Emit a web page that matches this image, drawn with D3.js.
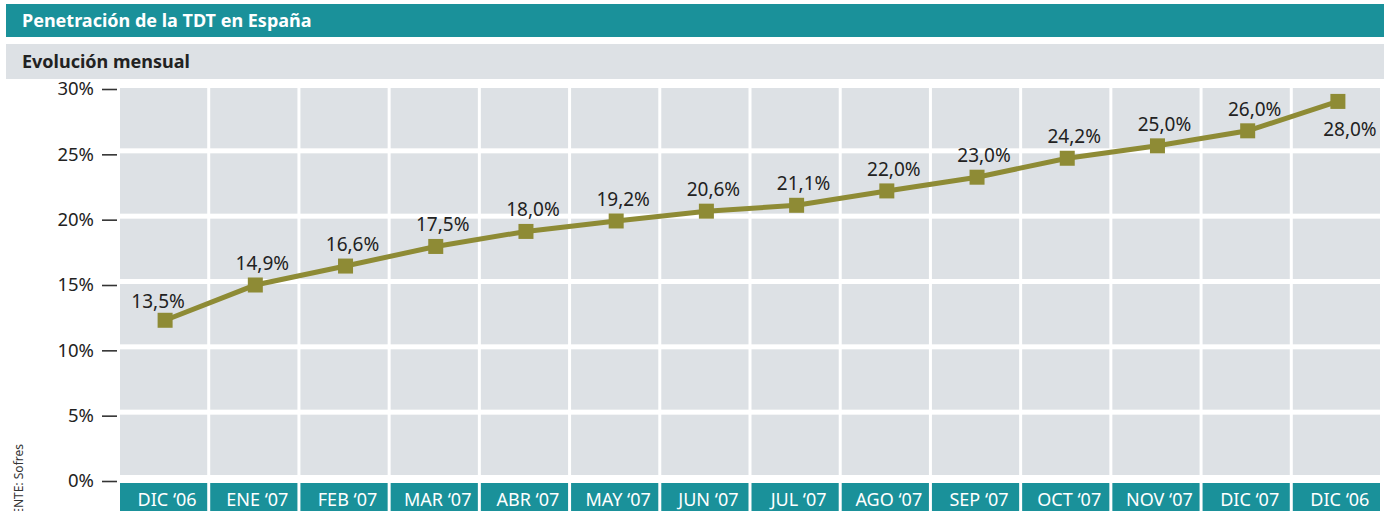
<!DOCTYPE html>
<html lang="es">
<head>
<meta charset="utf-8">
<title>Penetración de la TDT en España</title>
<style>
  html, body { margin: 0; padding: 0; background: #fff; }
  svg { display: block; font-family: 'Noto Sans', 'Open Sans', sans-serif; }
</style>
</head>
<body>
<div id="vis"></div>
<script src="https://cdn.jsdelivr.net/npm/d3@7"></script>
<script>
// months shown along the bottom (the last one really says DIC '06 in the source)
var months = ["DIC \u201806", "ENE \u201807", "FEB \u201807", "MAR \u201807", "ABR \u201807", "MAY \u201807",
              "JUN \u201807", "JUL \u201807", "AGO \u201807", "SEP \u201807", "OCT \u201807", "NOV \u201807",
              "DIC \u201807", "DIC \u201806"];
// where the markers sit on the chart (%)
var plotted = [12.3, 15.0, 16.45, 17.95, 19.1, 19.9, 20.65, 21.1, 22.2, 23.25, 24.7, 25.65, 26.8, 29.05];
// the labels printed next to the markers
var labels = ["13,5%", "14,9%", "16,6%", "17,5%", "18,0%", "19,2%", "20,6%", "21,1%",
              "22,0%", "23,0%", "24,2%", "25,0%", "26,0%", "28,0%"];
var yTicks = [0, 5, 10, 15, 20, 25, 30];

var width = 1384, height = 511;
var teal = '#1a919a', cell = '#dde1e5', olive = '#8e8b35', ink = '#222';

var svg = d3.select('#vis').append('svg')
    .attr('width', width)
    .attr('height', height);

// header bars
svg.append('rect').attr('x', 6).attr('y', 4).attr('width', width - 6).attr('height', 33).attr('fill', teal);
svg.append('text').attr('x', 22).attr('y', 27)
    .attr('fill', '#fff').attr('font-weight', 'bold').attr('font-size', 18)
    .text('Penetración de la TDT en España');

svg.append('rect').attr('x', 6).attr('y', 44).attr('width', width - 6).attr('height', 35).attr('fill', cell);
svg.append('text').attr('x', 22).attr('y', 68)
    .attr('fill', ink).attr('font-weight', 'bold').attr('font-size', 18)
    .text('Evolución mensual');

var x = d3.scaleBand()
    .domain(months.map(function(d, i) { return i; }))
    .range([120, 1383]);

var y = d3.scaleLinear()
    .domain([0, 30])
    .range([481, 89]);

// background cells
var rows = d3.pairs(yTicks);
var g = svg.append('g');
months.forEach(function(m, i) {
    rows.forEach(function(r) {
        var top = y(r[1]) - 1;
        var bottom = y(r[0]) - 6;
        g.append('rect')
            .attr('x', x(i))
            .attr('y', top)
            .attr('width', x.bandwidth() - 3)
            .attr('height', bottom - top)
            .attr('fill', cell);
    });
});

// category bar at the bottom
var xbar = svg.append('g');
xbar.selectAll('rect')
    .data(months)
    .enter()
    .append('rect')
    .attr('x', function(d, i) { return x(i); })
    .attr('y', y(0) + 2)
    .attr('width', x.bandwidth() - 3)
    .attr('height', height - y(0))
    .attr('fill', teal);

xbar.selectAll('text')
    .data(months)
    .enter()
    .append('text')
    .attr('x', function(d, i) { return x(i) + x.bandwidth() / 2 + 2; })
    .attr('y', 506)
    .attr('text-anchor', 'middle')
    .attr('fill', '#fff')
    .attr('font-size', 18)
    .text(function(d) { return d; });

// y axis
var yAxis = d3.axisLeft(y)
    .tickValues(yTicks)
    .tickSize(15)
    .tickPadding(8)
    .tickFormat(function(d) { return d + '%'; });

var ya = svg.append('g')
    .attr('transform', 'translate(117,0)')
    .call(yAxis);
ya.select('.domain').remove();
ya.selectAll('line').attr('stroke', '#333').attr('stroke-width', 1.6);
ya.selectAll('text')
    .attr('font-size', 18.5)
    .attr('fill', ink)
    .attr('font-family', "'Noto Sans', sans-serif");

// line + markers
var cx = function(i) { return x(i) + x.bandwidth() / 2; };
var line = d3.line()
    .x(function(d, i) { return cx(i); })
    .y(function(d) { return y(d); });

svg.append('path')
    .datum(plotted)
    .attr('d', line)
    .attr('fill', 'none')
    .attr('stroke', olive)
    .attr('stroke-width', 5);

var sz = 15;
svg.selectAll('.pt')
    .data(plotted)
    .enter()
    .append('rect')
    .attr('class', 'pt')
    .attr('x', function(d, i) { return cx(i) - sz / 2; })
    .attr('y', function(d) { return y(d) - sz / 2; })
    .attr('width', sz)
    .attr('height', sz)
    .attr('fill', olive);

svg.selectAll('.lbl')
    .data(plotted)
    .enter()
    .append('text')
    .attr('class', 'lbl')
    .attr('x', function(d, i) {
        if (i === 0) return cx(i) - 7;
        if (i === plotted.length - 1) return cx(i) + 12;
        return cx(i) + 7;
    })
    .attr('y', function(d, i) {
        if (i === 0) return y(d) - 12;
        if (i === plotted.length - 1) return y(d) + 35;
        return y(d) - 15;
    })
    .attr('text-anchor', 'middle')
    .attr('font-size', 19)
    .attr('fill', ink)
    .text(function(d, i) { return labels[i]; });

// source, rotated at the left edge (cut by the bottom edge as in the original)
svg.append('text')
    .attr('transform', 'translate(23,444) rotate(-90)')
    .attr('text-anchor', 'end')
    .attr('font-size', 12)
    .attr('fill', '#333')
    .text('FUENTE: Sofres');
</script>
</body>
</html>
